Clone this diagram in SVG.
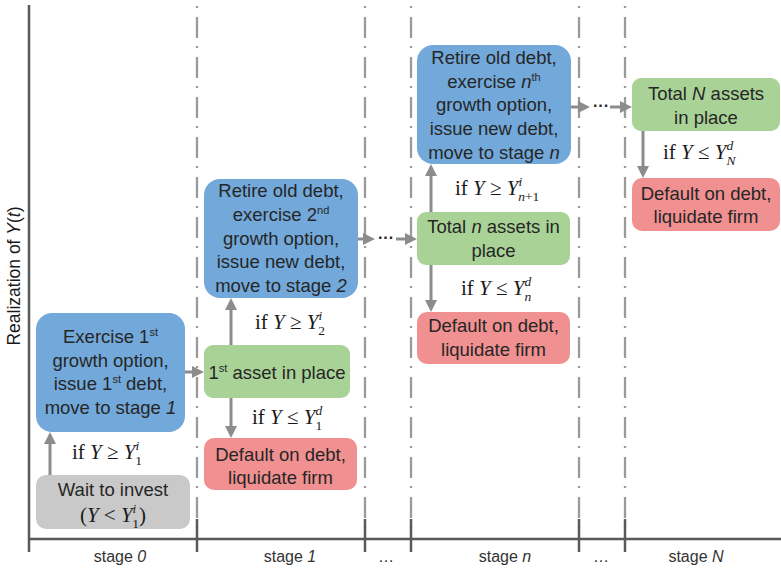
<svg xmlns="http://www.w3.org/2000/svg" width="781" height="569" viewBox="0 0 781 569">
<defs>
<style>
.t{font-family:"Liberation Sans",Arial,sans-serif;font-size:18.5px;fill:#262626;text-anchor:middle}
.m{font-family:"Liberation Serif","Times New Roman",serif;font-size:21px;fill:#1a1a1a}
.mc{text-anchor:middle}
.i{font-style:italic}
.sp{font-size:11px}
.ms{font-size:13.5px}
.st{font-family:"Liberation Sans",Arial,sans-serif;font-size:16px;fill:#333;text-anchor:middle}
.grid{stroke:#9a9a9a;stroke-width:2.3;stroke-dasharray:21 8 2 9;fill:none}
.tick{stroke:#595959;stroke-width:2.5}
.conn line{stroke:#8c8c8c;stroke-width:3}
.blue{fill:#72a9da}
.green{fill:#a9d396}
.red{fill:#f09090}
.gray{fill:#c9c9c9}
.dots{font-family:"Liberation Sans",Arial,sans-serif;font-size:16px;fill:#262626;text-anchor:middle;font-weight:bold}
</style>
<marker id="ah" markerUnits="userSpaceOnUse" markerWidth="12" markerHeight="12" refX="2" refY="6" orient="auto">
<path d="M0,0 L12,6 L0,12 z" fill="#8c8c8c"/>
</marker>
</defs>
<rect width="781" height="569" fill="#fff"/>
<g id="grid">
<line class="grid" x1="197" y1="-23" x2="197" y2="538"/>
<line class="grid" x1="365" y1="-23" x2="365" y2="538"/>
<line class="grid" x1="411" y1="-23" x2="411" y2="538"/>
<line class="grid" x1="579" y1="-23" x2="579" y2="538"/>
<line class="grid" x1="625" y1="-23" x2="625" y2="538"/>
</g>
<g id="axes">
<line class="tick" x1="29" y1="5" x2="29" y2="552"/>
<line class="tick" x1="29" y1="539" x2="781" y2="539"/>
<line class="tick" x1="197" y1="519" x2="197" y2="552"/>
<line class="tick" x1="365" y1="519" x2="365" y2="552"/>
<line class="tick" x1="411" y1="519" x2="411" y2="552"/>
<line class="tick" x1="579" y1="519" x2="579" y2="552"/>
<line class="tick" x1="625" y1="519" x2="625" y2="552"/>
<text class="st" x="120" y="562">stage <tspan class="i">0</tspan></text>
<text class="st" x="290" y="562">stage <tspan class="i">1</tspan></text>
<text class="st" x="386" y="562">…</text>
<text class="st" x="505" y="562">stage <tspan class="i">n</tspan></text>
<text class="st" x="601" y="562">…</text>
<text class="st" x="696" y="562">stage <tspan class="i">N</tspan></text>
<text class="st" style="font-size:17.5px;fill:#1a1a1a" transform="translate(20,276) rotate(-90)">Realization of <tspan class="i">Y</tspan>(<tspan class="i">t</tspan>)</text>
</g>
<g id="connectors" class="conn">
<line x1="50" y1="475" x2="50" y2="442" marker-end="url(#ah)"/>
<line x1="185" y1="372" x2="194" y2="372" marker-end="url(#ah)"/>
<line x1="231" y1="345" x2="231" y2="308" marker-end="url(#ah)"/>
<line x1="231" y1="398" x2="231" y2="428" marker-end="url(#ah)"/>
<line x1="358" y1="239" x2="365" y2="239" marker-end="url(#ah)"/>
<line x1="396" y1="239" x2="407" y2="239" marker-end="url(#ah)"/>
<line x1="431" y1="212" x2="431" y2="174" marker-end="url(#ah)"/>
<line x1="431" y1="265" x2="431" y2="302" marker-end="url(#ah)"/>
<line x1="571" y1="107" x2="580" y2="107" marker-end="url(#ah)"/>
<line x1="610" y1="107" x2="622" y2="107" marker-end="url(#ah)"/>
<line x1="643" y1="131" x2="643" y2="168" marker-end="url(#ah)"/>
<text class="dots" x="386" y="243">···</text>
<text class="dots" x="601" y="111">···</text>
<text class="m" x="72" y="459">if <tspan class="i">Y</tspan> ≥ <tspan class="i">Y</tspan><tspan class="i ms" dy="-9">i</tspan><tspan class="ms" dx="-4" dy="15">1</tspan></text>
<text class="m" x="255" y="329">if <tspan class="i">Y</tspan> ≥ <tspan class="i">Y</tspan><tspan class="i ms" dy="-9">i</tspan><tspan class="ms" dx="-4" dy="15">2</tspan></text>
<text class="m" x="252" y="424">if <tspan class="i">Y</tspan> ≤ <tspan class="i">Y</tspan><tspan class="i ms" dy="-9">d</tspan><tspan class="ms" dx="-6.8" dy="15">1</tspan></text>
<text class="m" x="455" y="195">if <tspan class="i">Y</tspan> ≥ <tspan class="i">Y</tspan><tspan class="i ms" dy="-9">i</tspan><tspan class="i ms" dx="-4" dy="15">n</tspan><tspan class="ms">+1</tspan></text>
<text class="m" x="461" y="295">if <tspan class="i">Y</tspan> ≤ <tspan class="i">Y</tspan><tspan class="i ms" dy="-9">d</tspan><tspan class="i ms" dx="-6.8" dy="15">n</tspan></text>
<text class="m" x="663" y="159">if <tspan class="i">Y</tspan> ≤ <tspan class="i">Y</tspan><tspan class="i ms" dy="-9">d</tspan><tspan class="i ms" dx="-6.8" dy="15">N</tspan></text>
</g>
<g id="wait">
<rect class="gray" x="36" y="475" width="154" height="54" rx="10"/>
<text class="t" x="113" y="496">Wait to invest</text>
<text class="m mc" x="113" y="522">(<tspan class="i">Y</tspan> &lt; <tspan class="i">Y</tspan><tspan class="i ms" dy="-9">i</tspan><tspan class="ms" dx="-4" dy="15">1</tspan><tspan dy="-6">)</tspan></text>
</g>
<g id="exercise1">
<rect class="blue" x="36" y="313" width="149" height="119" rx="16"/>
<text class="t" x="110.5" y="343">Exercise 1<tspan class="sp" dy="-7">st</tspan></text>
<text class="t" x="110.5" y="367">growth option,</text>
<text class="t" x="110.5" y="390">issue 1<tspan class="sp" dy="-7">st</tspan><tspan dy="7"> debt,</tspan></text>
<text class="t" x="110.5" y="414">move to stage <tspan class="i">1</tspan></text>
</g>
<g id="asset1">
<rect class="green" x="204" y="345" width="146" height="53" rx="9"/>
<text class="t" x="277" y="379">1<tspan class="sp" dy="-7">st</tspan><tspan dy="7"> asset in place</tspan></text>
</g>
<g id="default1">
<rect class="red" x="204" y="438" width="153" height="52" rx="10"/>
<text class="t" x="280.5" y="461">Default on debt,</text>
<text class="t" x="280.5" y="484">liquidate firm</text>
</g>
<g id="exercise2">
<rect class="blue" x="204" y="179" width="154" height="119" rx="16"/>
<text class="t" x="281" y="197">Retire old debt,</text>
<text class="t" x="281" y="221">exercise 2<tspan class="sp" dy="-7">nd</tspan></text>
<text class="t" x="281" y="245">growth option,</text>
<text class="t" x="281" y="268">issue new debt,</text>
<text class="t" x="281" y="292">move to stage <tspan class="i">2</tspan></text>
</g>
<g id="exercisen">
<rect class="blue" x="417" y="45" width="154" height="119" rx="16"/>
<text class="t" x="494" y="64">Retire old debt,</text>
<text class="t" x="494" y="88">exercise <tspan class="i">n</tspan><tspan class="sp" dy="-7">th</tspan></text>
<text class="t" x="494" y="111">growth option,</text>
<text class="t" x="494" y="135">issue new debt,</text>
<text class="t" x="494" y="159">move to stage <tspan class="i">n</tspan></text>
</g>
<g id="assetn">
<rect class="green" x="417" y="212" width="153" height="53" rx="9"/>
<text class="t" x="493.5" y="233">Total <tspan class="i">n</tspan> assets in</text>
<text class="t" x="493.5" y="257">place</text>
</g>
<g id="defaultn">
<rect class="red" x="417" y="312" width="153" height="52" rx="10"/>
<text class="t" x="493.5" y="332">Default on debt,</text>
<text class="t" x="493.5" y="356">liquidate firm</text>
</g>
<g id="assetN">
<rect class="green" x="632" y="78" width="148" height="53" rx="9"/>
<text class="t" x="706" y="100">Total <tspan class="i">N</tspan> assets</text>
<text class="t" x="706" y="124">in place</text>
</g>
<g id="defaultN">
<rect class="red" x="632" y="178" width="148" height="53" rx="10"/>
<text class="t" x="706" y="200">Default on debt,</text>
<text class="t" x="706" y="223">liquidate firm</text>
</g>
</svg>
